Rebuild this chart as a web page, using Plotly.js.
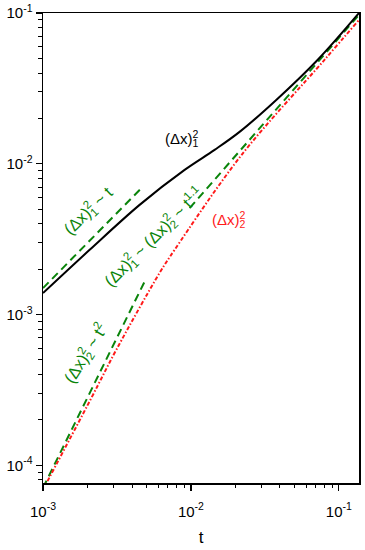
<!DOCTYPE html>
<html>
<head>
<meta charset="utf-8">
<script src="https://cdn.plot.ly/plotly-3.0.1.min.js"></script>
<style>html,body{margin:0;padding:0;background:#fff;}#chart{width:365px;height:550px;}</style>
</head>
<body>
<div id="chart"></div>
<script>
// (Δx)_1^2 : black solid curve
var t1 = [0.001, 0.002068, 0.0045, 0.009066, 0.014456, 0.02133, 0.03776, 0.07179, 0.1369];
var dx1 = [0.001388, 0.002688, 0.00534, 0.009113, 0.012363, 0.016274, 0.02651, 0.04881, 0.1];

// (Δx)_2^2 : red dash-dot curve
var t2 = [0.001, 0.002123, 0.003133, 0.006143, 0.007762, 0.02203, 0.07998, 0.1369];
var dx2 = [0.000069, 0.00028, 0.000585, 0.00189, 0.00269, 0.01146, 0.04887, 0.0899];

// guide lines (green dashed): endpoints
var tLin = [0.001, 0.004738];
var yLin = [0.001498, 0.00706];
var tSq = [0.001, 0.004996];
var ySq = [0.0000709, 0.001746];
var tPow = [0.0098, 0.1369];
var yPow = [0.00508, 0.097];

var xTicks = [0.001, 0.01, 0.1];
var yTicks = [0.0001, 0.001, 0.01, 0.1];

var FONT = "'Liberation Sans', Arial, Helvetica, sans-serif";
var GREEN = '#0a840a';
var RED = '#ff1a1a';
var S = "<sup style='letter-spacing:-0.556em'>2</sup>";

var traces = [
  {x: tLin, y: yLin, mode: 'lines', line: {color: GREEN, width: 2, dash: '8px,5px'}, hoverinfo: 'skip'},
  {x: tSq, y: ySq, mode: 'lines', line: {color: GREEN, width: 2, dash: '8px,5px'}, hoverinfo: 'skip'},
  {x: tPow, y: yPow, mode: 'lines', line: {color: GREEN, width: 2, dash: '8px,5px'}, hoverinfo: 'skip'},
  {x: t2, y: dx2, mode: 'lines', line: {color: RED, width: 2, dash: '4px,2px,1.5px,2px', shape: 'spline', smoothing: 1}, hoverinfo: 'skip'},
  {x: t1, y: dx1, mode: 'lines', line: {color: '#000', width: 2, shape: 'spline', smoothing: 1}, hoverinfo: 'skip'}
];

var axisBase = {
  type: 'log', showline: true, linecolor: '#000', linewidth: 1.5, mirror: true,
  ticks: 'outside', ticklen: 6, tickwidth: 1.2, tickcolor: '#000',
  showgrid: false, zeroline: false, exponentformat: 'power',
  tickfont: {family: FONT, size: 15, color: '#000'},
  minor: {ticks: 'outside', ticklen: 3.5, tickwidth: 1, tickcolor: '#000', dtick: 'D1', showgrid: false}
};

function ann(x, y, text, color, angle, size) {
  return {xref: 'paper', yref: 'paper', x: x, y: y, xanchor: 'center', yanchor: 'middle',
          showarrow: false, text: text, textangle: angle || 0,
          font: {family: FONT, size: size || 15, color: color}};
}

var layout = {
  width: 365, height: 550,
  margin: {l: 43.3, r: 5.5, t: 13, b: 66.7},
  paper_bgcolor: '#fff', plot_bgcolor: '#fff',
  showlegend: false,
  font: {family: FONT, color: '#000'},
  xaxis: Object.assign({}, axisBase, {
    range: [-3, -0.8635], tickmode: 'array', tickvals: xTicks, ticklabelstandoff: 8,
    ticktext: xTicks.map(function(v){return '10<sup>-' + Math.round(-Math.log10(v)) + '</sup>';}),
    title: {text: 't', font: {family: FONT, size: 17, color: '#000'}, standoff: 12}
  }),
  yaxis: Object.assign({}, axisBase, {
    range: [-4.117, -1], tickmode: 'array', tickvals: yTicks,
    ticktext: yTicks.map(function(v){return '10<sup>-' + Math.round(-Math.log10(v)) + '</sup>';})
  }),
  annotations: [
    ann(0.4402, 0.7321, '(Δx)' + S + '<sub>1</sub>', '#000'),
    ann(0.5900, 0.5600, '(Δx)' + S + '<sub>2</sub>', RED),
    ann(0.1450, 0.5800, '(Δx)' + S + '<sub>1</sub> ~ t', GREEN, -44, 16.5),
    ann(0.1350, 0.2770, '(Δx)' + S + '<sub>2</sub> ~ t<sup>2</sup>', GREEN, -58, 16.5),
    ann(0.3500, 0.5230, '(Δx)' + S + '<sub>1</sub> ~ (Δx)' + S + '<sub>2</sub> ~ t<sup>1.1</sup>', GREEN, -45, 16.5)
  ]
};

Plotly.newPlot('chart', traces, layout, {staticPlot: true, displayModeBar: false});
</script>
</body>
</html>
